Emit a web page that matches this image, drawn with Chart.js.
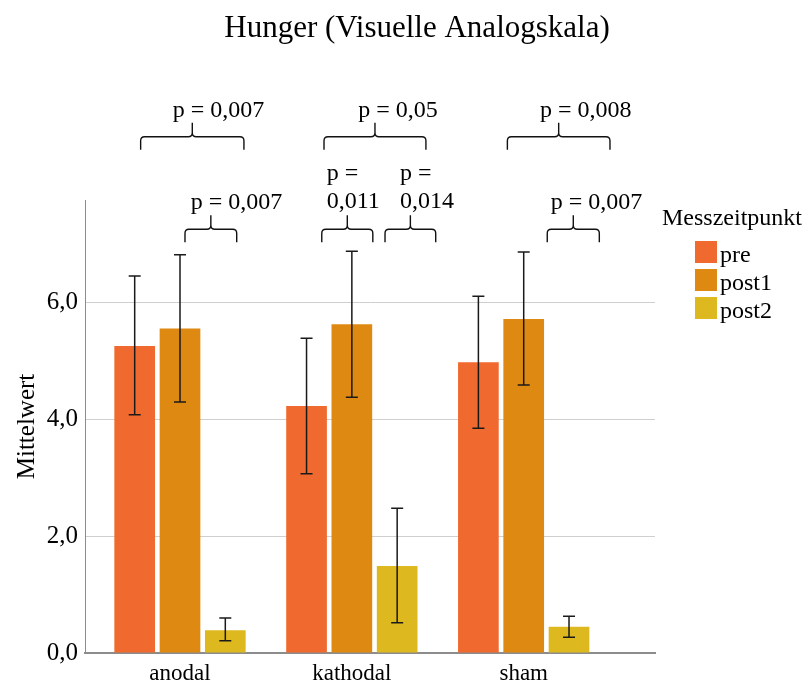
<!DOCTYPE html>
<html><head><meta charset="utf-8">
<script src="https://cdn.jsdelivr.net/npm/chart.js@4/dist/chart.umd.min.js"></script>
<style>html,body{margin:0;padding:0;background:#fff}#wrap{width:810px;height:683px;position:relative}</style>
</head><body><div id="wrap"><canvas id="c" width="810" height="683"></canvas></div>
<script>
// ---- data ----
const categories = ['anodal', 'kathodal', 'sham'];
const seriesNames = ['pre', 'post1', 'post2'];
const preMean   = [5.26, 4.23, 4.98];
const preLow    = [4.08, 3.07, 3.85];
const preHigh   = [6.46, 5.39, 6.11];
const post1Mean = [5.56, 5.63, 5.72];
const post1Low  = [4.30, 4.38, 4.59];
const post1High = [6.82, 6.88, 6.87];
const post2Mean = [0.39, 1.49, 0.45];
const post2Low  = [0.21, 0.52, 0.27];
const post2High = [0.60, 2.48, 0.63];
const yTickValues = [0, 2, 4, 6];
const pValueLabels = [['p = 0,007'], ['p = 0,007'], ['p = 0,05'], ['p =', '0,011'], ['p =', '0,014'], ['p = 0,008'], ['p = 0,007']];
const chartTitle = 'Hunger (Visuelle Analogskala)';
const yAxisTitle = 'Mittelwert';
const legendTitle = 'Messzeitpunkt';

// ---- layout / style (not data) ----
const colors = ['#F0692E', '#DE8A12', '#DDB91F'];
const bracketLayout = [ // x in category units, level in value units
  {from: -0.229, to: 0.372, level: 8.844, textX: -0.042},
  {from: 0.029, to: 0.330, level: 7.258, textX: 0.062},
  {from: 0.838, to: 1.431, level: 8.844, textX: 1.037},
  {from: 0.825, to: 1.122, level: 7.258, textX: 0.854},
  {from: 1.193, to: 1.488, level: 7.258, textX: 1.280},
  {from: 1.905, to: 2.502, level: 8.844, textX: 2.095},
  {from: 2.137, to: 2.440, level: 7.258, textX: 2.157}
];
const SERIF = '"Liberation Serif", "Times New Roman", serif';

const means = [preMean, post1Mean, post2Mean];
const lows = [preLow, post1Low, post2Low];
const highs = [preHigh, post1High, post2High];

const datasets = seriesNames.map((name, s) => ({
  label: name,
  data: categories.map((c, i) => ({x: i, y: means[s][i]})),
  backgroundColor: colors[s],
  borderWidth: 0,
  categoryPercentage: 0.791,
  barPercentage: 0.898
}));

const extras = {
  id: 'extras',
  afterDatasetsDraw(chart) {
    const ctx = chart.ctx, ys = chart.scales.y;
    ctx.save();
    ctx.strokeStyle = '#1a1a1a';
    ctx.lineWidth = 1.5;
    datasets.forEach((d, s) => {
      const meta = chart.getDatasetMeta(s);
      meta.data.forEach((bar, i) => {
        const x = bar.x;
        const y1 = ys.getPixelForValue(lows[s][i]);
        const y2 = ys.getPixelForValue(highs[s][i]);
        ctx.beginPath();
        ctx.moveTo(x, y1); ctx.lineTo(x, y2);
        ctx.moveTo(x - 6, y1); ctx.lineTo(x + 6, y1);
        ctx.moveTo(x - 6, y2); ctx.lineTo(x + 6, y2);
        ctx.stroke();
      });
    });
    ctx.restore();
  },
  afterDraw(chart) {
    const ctx = chart.ctx, ys = chart.scales.y, xs = chart.scales.x;
    ctx.save();
    ctx.fillStyle = '#000';
    ctx.font = '31px ' + SERIF;
    ctx.textAlign = 'center';
    ctx.textBaseline = 'alphabetic';
    ctx.fillText(chartTitle, 417, 37);
    ctx.strokeStyle = '#111';
    ctx.lineWidth = 1.4;
    ctx.font = '24px ' + SERIF;
    ctx.textAlign = 'left';
    bracketLayout.forEach((b, k) => {
      const x1 = xs.getPixelForValue(b.from);
      const x2 = xs.getPixelForValue(b.to);
      const xm = (x1 + x2) / 2;
      const yl = ys.getPixelForValue(b.level);
      const r = 4, down = 13, up = 14;
      ctx.beginPath();
      ctx.moveTo(x1, yl + down);
      ctx.lineTo(x1, yl + r);
      ctx.quadraticCurveTo(x1, yl, x1 + r, yl);
      ctx.lineTo(xm - r, yl);
      ctx.quadraticCurveTo(xm, yl, xm, yl - r);
      ctx.lineTo(xm, yl - up);
      ctx.moveTo(xm, yl - r);
      ctx.quadraticCurveTo(xm, yl, xm + r, yl);
      ctx.lineTo(x2 - r, yl);
      ctx.quadraticCurveTo(x2, yl, x2, yl + r);
      ctx.lineTo(x2, yl + down);
      ctx.stroke();
      const lines = pValueLabels[k];
      const tx = xs.getPixelForValue(b.textX);
      if (lines.length === 1) {
        ctx.fillText(lines[0], tx, yl - 20);
      } else {
        ctx.fillText(lines[0], tx, yl - 49);
        ctx.fillText(lines[1], tx, yl - 21);
      }
    });
    ctx.font = '24px ' + SERIF;
    ctx.fillText(legendTitle, 662, 225);
    seriesNames.forEach((n, s) => {
      const top = 241 + s * 28;
      ctx.fillStyle = colors[s];
      ctx.fillRect(695, top, 22, 22);
      ctx.fillStyle = '#000';
      ctx.fillText(n, 720, top + 21);
    });
    ctx.restore();
  }
};

new Chart(document.getElementById('c'), {
  type: 'bar',
  data: {datasets},
  plugins: [extras],
  options: {
    responsive: false,
    animation: false,
    devicePixelRatio: 1,
    layout: {padding: {top: 200, right: 155, left: 0, bottom: 0}},
    plugins: {legend: {display: false}, title: {display: false}, tooltip: {enabled: false}},
    scales: {
      x: {
        type: 'linear',
        offset: false,
        bounds: 'data',
        min: -0.5528, max: 2.764,
        afterBuildTicks: s => { s.ticks = categories.map((c, i) => ({value: i})); },
        afterFit: s => { s.height = 30; },
        grid: {display: false, drawTicks: false, offset: false},
        border: {display: true, color: '#8c8c8c', width: 2},
        ticks: {
          padding: 7,
          color: '#000',
          font: {family: SERIF, size: 23},
          callback: v => categories[v] !== undefined ? categories[v] : ''
        }
      },
      y: {
        min: 0, max: 7.76,
        afterBuildTicks: s => { s.ticks = yTickValues.map(v => ({value: v})); },
        afterFit: s => { s.width = 85; },
        grid: {color: '#cfcfcf', lineWidth: 1, drawTicks: false},
        border: {display: true, color: '#8c8c8c', width: 1},
        title: {display: true, text: yAxisTitle, color: '#000', font: {family: SERIF, size: 25}, padding: {top: 12, bottom: 0}},
        ticks: {
          padding: 7,
          color: '#000',
          font: {family: SERIF, size: 25},
          callback: v => v.toFixed(1).replace('.', ',')
        }
      }
    }
  }
});
</script>
</body></html>
